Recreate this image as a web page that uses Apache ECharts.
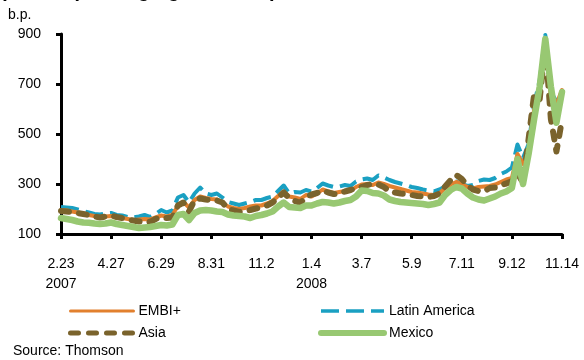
<!DOCTYPE html>
<html>
<head>
<meta charset="utf-8">
<script src="https://cdn.jsdelivr.net/npm/echarts@6/dist/echarts.min.js"></script>
<style>
  html, body { margin: 0; padding: 0; background: #fff; }
  #chart { width: 584px; height: 360px; }
</style>
</head>
<body>
<div id="chart"></div>
<script>
// weekly (Friday) observations, 2007-02-23 .. 2008-11-14
const startDate = '2007-02-23';
const weekCount = 91;
const yearLabels = { '2007-02-23': '2007', '2008-01-04': '2008' };

const embiPlus = [
  196, 194, 190, 186, 182, 176, 172, 168, 170, 172,
  166, 164, 160, 156, 158, 160, 158, 166, 174, 170,
  176, 212, 228, 206, 236, 250, 244, 240, 238, 226,
  210, 204, 200, 204, 210, 214, 214, 222, 232, 252,
  270, 250, 246, 240, 256, 250, 262, 278, 270, 264,
  268, 272, 272, 288, 298, 300, 296, 306, 300, 292,
  286, 280, 274, 268, 266, 262, 258, 256, 262, 284,
  298, 308, 300, 288, 282, 288, 290, 292, 298, 308,
  318, 324, 420, 380, 440, 600, 680, 870, 650, 620,
  676
];
const latinAmerica = [
  208, 206, 204, 198, 192, 186, 180, 178, 182, 184,
  176, 174, 168, 166, 170, 176, 168, 180, 196, 186,
  194, 246, 256, 226, 262, 286, 262, 256, 262, 246,
  228, 222, 216, 222, 228, 236, 236, 244, 250, 272,
  294, 262, 268, 266, 276, 270, 284, 302, 294, 288,
  290, 296, 292, 310, 318, 322, 316, 334, 326, 316,
  308, 302, 296, 288, 284, 278, 274, 270, 278, 290,
  304, 310, 300, 292, 296, 312, 318, 316, 324, 340,
  350, 366, 458, 404, 460, 620, 716, 896, 668, 630,
  666
];
const asia = [
  192, 190, 188, 184, 180, 176, 170, 166, 170, 174,
  168, 164, 158, 154, 150, 152, 148, 160, 166, 164,
  166, 214, 226, 190, 236, 242, 238, 236, 234, 226,
  200, 194, 188, 192, 196, 202, 206, 214, 226, 246,
  266, 244, 232, 224, 248, 258, 264, 274, 266, 260,
  262, 270, 276, 284, 288, 296, 300, 298, 288, 270,
  266, 262, 260, 256, 252, 250, 248, 252, 262, 290,
  316, 336, 320, 294, 278, 272, 270, 284, 286, 296,
  302, 312, 344, 304, 480, 660, 640, 860, 560, 430,
  556
];
const mexico = [
  164, 160, 156, 150, 146, 145, 142, 140, 142, 146,
  140, 136, 132, 128, 124, 126, 128, 132, 136, 134,
  138, 176, 180, 156, 184, 194, 196, 194, 190, 188,
  178, 174, 172, 170, 164, 172, 176, 182, 190, 210,
  226, 208, 206, 204, 214, 214, 222, 228, 226, 222,
  226, 232, 236, 250, 274, 272, 264, 262, 254, 238,
  232, 228, 226, 224, 222, 220, 216, 220, 226, 256,
  276, 288, 282, 262, 246, 238, 234, 242, 250, 262,
  270, 284, 400, 300, 420, 560, 690, 880, 690, 545,
  668
];

const weeks = [];
{
  const d = new Date(startDate + 'T00:00:00Z');
  for (let i = 0; i < weekCount; i++) {
    weeks.push(d.toISOString().slice(0, 10));
    d.setUTCDate(d.getUTCDate() + 7);
  }
}

const font = '"Liberation Sans", Arial, sans-serif';
const chart = echarts.init(document.getElementById('chart'));

// series look: colour, plot width, legend width, dash, cap
const styles = {
  'EMBI+': { color: '#E2802E', width: 4, key: 3, type: 'solid', cap: 'round' },
  'Latin America': { color: '#1AA0C2', width: 4, key: 3.5, type: [18, 7], cap: 'butt' },
  'Asia': { color: '#7A632C', width: 6, key: 5, type: [8, 10], cap: 'round' },
  'Mexico': { color: '#98C872', width: 6.5, key: 6, type: 'solid', cap: 'round' }
};

function line(name, data) {
  const s = styles[name];
  return {
    name: name,
    type: 'line',
    data: data,
    showSymbol: false,
    symbol: 'circle',
    animation: false,
    itemStyle: { color: s.color },
    lineStyle: { color: s.color, width: s.width, type: s.type, cap: s.cap, join: 'round' }
  };
}

function legendItem(name) {
  const s = styles[name];
  return {
    name: name,
    itemStyle: { opacity: 0 },
    lineStyle: { color: s.color, width: s.key, type: s.type, cap: s.cap }
  };
}

const legendBase = {
  orient: 'vertical',
  top: 304,
  padding: 0,
  itemWidth: 63, itemHeight: 14, itemGap: 8,
  textStyle: { fontSize: 14, color: '#000', fontFamily: font }
};

chart.setOption({
  animation: false,
  textStyle: { fontFamily: font },
  graphic: [
    {
      type: 'text', left: 0, top: -19,
      style: { text: '(Chart 4) Emerging Market Spreads', font: 'bold 20px ' + font, fill: '#000' }
    },
    {
      type: 'text', left: 8, top: 8,
      style: { text: 'b.p.', font: '14px ' + font, fill: '#000' }
    },
    {
      type: 'text', left: 13, top: 344,
      style: { text: 'Source: Thomson', font: '14px ' + font, fill: '#000' }
    }
  ],
  grid: { left: 61, right: 22, top: 34, bottom: 126, containLabel: false },
  xAxis: {
    type: 'category',
    data: weeks,
    boundaryGap: false,
    axisLine: { lineStyle: { color: '#000', width: 3 } },
    axisTick: { interval: 8, length: 5, lineStyle: { color: '#000', width: 3 } },
    axisLabel: {
      interval: 8,
      margin: 20,
      fontSize: 14,
      lineHeight: 20,
      color: '#000',
      fontFamily: font,
      formatter: function (v) {
        const p = v.split('-');
        const md = (+p[1]) + '.' + (+p[2]);
        return yearLabels[v] ? md + '\n' + yearLabels[v] : md;
      }
    },
    splitLine: { show: false }
  },
  yAxis: {
    type: 'value',
    min: 100,
    max: 900,
    interval: 200,
    axisLine: { show: true, lineStyle: { color: '#000', width: 3 } },
    axisTick: { show: true, length: 5, lineStyle: { color: '#000', width: 3 } },
    axisLabel: { margin: 20, fontSize: 14, color: '#000', fontFamily: font },
    splitLine: { show: false }
  },
  legend: [
    Object.assign({ left: 68, data: ['EMBI+', 'Asia'].map(legendItem) }, legendBase),
    Object.assign({ left: 318, data: ['Latin America', 'Mexico'].map(legendItem) }, legendBase)
  ],
  series: [
    line('Latin America', latinAmerica),
    line('EMBI+', embiPlus),
    line('Asia', asia),
    line('Mexico', mexico)
  ]
});
</script>
</body>
</html>
